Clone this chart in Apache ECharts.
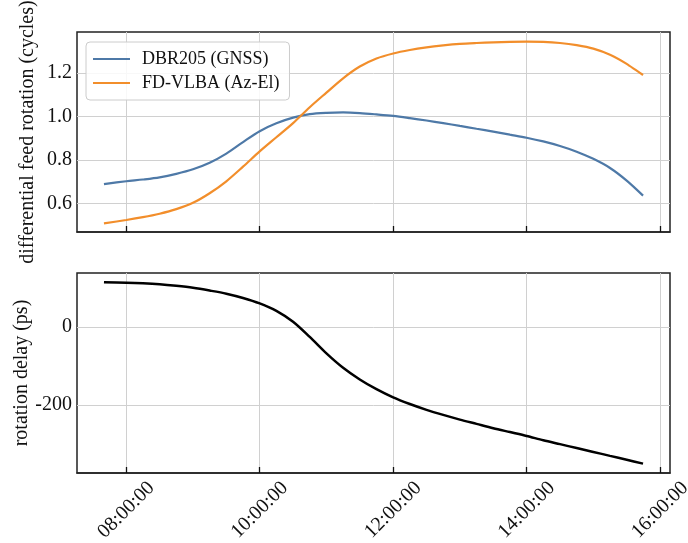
<!DOCTYPE html>
<html><head><meta charset="utf-8">
<script src="https://cdn.jsdelivr.net/npm/echarts@6/dist/echarts.min.js"></script>
<style>html,body{margin:0;padding:0;background:#fff}#c{width:688px;height:543px}</style>
</head><body><div id="c"></div>
<script>
// time in hours (UT)
const hours = [7.666, 8, 8.25, 8.5, 8.75, 9, 9.25, 9.5, 9.75, 10, 10.25, 10.5, 10.75, 11, 11.25, 11.5, 11.75, 12, 12.25, 12.5, 12.75, 13, 13.25, 13.5, 13.75, 14, 14.25, 14.5, 14.75, 15, 15.25, 15.5, 15.745];
const dbr205 = [0.690, 0.703, 0.711, 0.721, 0.737, 0.758, 0.788, 0.830, 0.883, 0.933, 0.969, 0.995, 1.011, 1.017, 1.019, 1.016, 1.010, 1.003, 0.993, 0.982, 0.970, 0.957, 0.944, 0.931, 0.917, 0.903, 0.886, 0.865, 0.839, 0.806, 0.764, 0.706, 0.637];
const fdvlba = [0.510, 0.525, 0.538, 0.554, 0.575, 0.604, 0.648, 0.703, 0.770, 0.840, 0.905, 0.970, 1.043, 1.110, 1.176, 1.230, 1.267, 1.290, 1.306, 1.318, 1.327, 1.334, 1.338, 1.341, 1.343, 1.344, 1.343, 1.338, 1.328, 1.312, 1.284, 1.242, 1.191];
const delayPs = [115, 114, 112.5, 110, 106, 101, 94, 86, 75, 61, 42, 14, -25, -67, -104, -134, -159, -180, -197, -212, -225, -237, -248, -259, -269, -279, -290, -300, -310, -320, -330, -340, -350];
const xTicks = [8, 10, 12, 14, 16];
const topYTicks = [0.6, 0.8, 1.0, 1.2];
const botYTicks = [-200, 0];
const seriesNames = ['DBR205 (GNSS)', 'FD-VLBA (Az-El)'];

const FONT = 'Liberation Serif, Times New Roman, serif';
const pair = (xs, ys) => xs.map((x, i) => [x, ys[i]]);
const fmtTime = v => (v < 10 ? '0' : '') + Math.round(v) + ':00:00';

const xBase = (gi, showLabels) => ({
  type: 'value', gridIndex: gi, min: 7.262, max: 16.149,
  axisLine: {show: true, onZero: false, lineStyle: {color: '#222', width: 1.5}},
  axisTick: {show: true, inside: true, length: 6, customValues: xTicks, lineStyle: {color: '#111', width: 1.3}},
  axisLabel: {show: showLabels, customValues: xTicks, formatter: fmtTime, rotate: 45, align: 'center', verticalAlign: 'middle', margin: 37,
    fontFamily: FONT, fontSize: 20, color: '#111'},
  splitLine: {show: true, lineStyle: {color: '#d0d0d0', width: 1}}
});

const chart = echarts.init(document.getElementById('c'), null, {renderer: 'canvas'});
chart.setOption({
  animation: false,
  backgroundColor: '#fff',
  grid: [
    {left: 77, top: 32, width: 593, height: 200, show: true, borderColor: '#222', borderWidth: 1.5, backgroundColor: 'transparent', outerBoundsMode: 'none', containLabel: false},
    {left: 77, top: 273, width: 593, height: 200, show: true, borderColor: '#222', borderWidth: 1.5, backgroundColor: 'transparent', outerBoundsMode: 'none', containLabel: false}
  ],
  legend: {
    data: seriesNames, orient: 'vertical', left: 86, top: 42,
    padding: [8, 10, 8, 7], itemGap: 6, itemWidth: 37, itemHeight: 2, icon: 'rect',
    backgroundColor: 'rgba(255,255,255,0.85)', borderColor: '#cccccc', borderWidth: 1, borderRadius: 4,
    textStyle: {fontFamily: FONT, fontSize: 18, color: '#111', padding: [0, 0, 0, 7]}
  },
  xAxis: [xBase(0, false), xBase(1, true)],
  yAxis: [
    {type: 'value', gridIndex: 0, min: 0.470, max: 1.3885,
     name: 'differential feed rotation (cycles)', nameLocation: 'middle', nameGap: 39, nameMoveOverlap: false,
     nameTextStyle: {fontFamily: FONT, fontSize: 20, color: '#111'},
     axisLine: {show: false, onZero: false}, axisTick: {show: false, customValues: topYTicks},
     axisLabel: {customValues: topYTicks, formatter: v => v.toFixed(1), margin: 5, fontFamily: FONT, fontSize: 20, color: '#111'},
     splitLine: {show: true, lineStyle: {color: '#d0d0d0', width: 1}}},
    {type: 'value', gridIndex: 1, min: -374, max: 139,
     name: 'rotation delay (ps)', nameLocation: 'middle', nameGap: 45, nameMoveOverlap: false,
     nameTextStyle: {fontFamily: FONT, fontSize: 20, color: '#111'},
     axisLine: {show: false, onZero: false}, axisTick: {show: false, customValues: botYTicks},
     axisLabel: {customValues: botYTicks, formatter: v => String(v), margin: 5, fontFamily: FONT, fontSize: 20, color: '#111'},
     splitLine: {show: true, lineStyle: {color: '#d0d0d0', width: 1}}}
  ],
  series: [
    {name: seriesNames[0], type: 'line', xAxisIndex: 0, yAxisIndex: 0, data: pair(hours, dbr205),
     showSymbol: false, smooth: 0.3, lineStyle: {color: '#4e79a7', width: 2.2}, itemStyle: {color: '#4e79a7'}},
    {name: seriesNames[1], type: 'line', xAxisIndex: 0, yAxisIndex: 0, data: pair(hours, fdvlba),
     showSymbol: false, smooth: 0.3, lineStyle: {color: '#f28e2b', width: 2.2}, itemStyle: {color: '#f28e2b'}},
    {name: 'delay', type: 'line', xAxisIndex: 1, yAxisIndex: 1, data: pair(hours, delayPs),
     showSymbol: false, smooth: 0.3, lineStyle: {color: '#000', width: 2.5}, itemStyle: {color: '#000'}}
  ]
});
</script></body></html>
